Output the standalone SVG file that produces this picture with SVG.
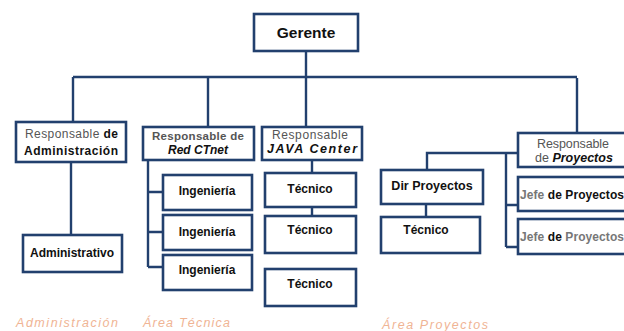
<svg xmlns="http://www.w3.org/2000/svg" width="624" height="331" viewBox="0 0 624 331">
<style>
.box{fill:#ffffff;stroke:#22406e;stroke-width:2.6}
.ln{fill:none;stroke:#22406e;stroke-width:2.4}
.t{font-family:"Liberation Sans",Arial,sans-serif;font-weight:bold;font-size:12px;fill:#111;text-anchor:middle}
.g{font-family:"Liberation Sans",Arial,sans-serif;font-size:12px;fill:#555}
.bi{font-weight:bold;font-style:italic;fill:#111}
.b{font-weight:bold;fill:#111}
.area{font-family:"Liberation Sans",Arial,sans-serif;font-style:italic;font-size:12.5px;fill:#f0b494}
</style>
<rect width="624" height="331" fill="#ffffff"/>
<g id="connectors">
<path class="ln" d="M306 52V78M73 77H577M73 77V122M208 77V127M306 78V127M577 78V133"/>
<path class="ln" d="M71 162V235"/>
<path class="ln" d="M148 160V267M148 192H163M148 232H163M148 267H163"/>
<path class="ln" d="M312 160V173M312 207V216"/>
<path class="ln" d="M518 153H427V170M506 153V247M506 205H518M506 247H518M426 204V217"/>
</g>
<g id="gerente"><rect class="box" x="254" y="14" width="104" height="37"/><text class="t" x="306" y="38" style="font-size:15.5px">Gerente</text></g>
<g id="resp-admin"><rect class="box" x="16" y="122" width="110" height="40"/><text class="g" x="25" y="138" textLength="93"><tspan>Responsable </tspan><tspan class="b">de</tspan></text><text class="t" x="24" y="155" textLength="94" style="text-anchor:start">Administración</text></g>
<g id="resp-red"><rect class="box" x="143" y="127" width="111" height="33"/><text class="g" x="198" y="140" style="text-anchor:middle;font-weight:bold;font-size:11.5px" textLength="92">Responsable de</text><text class="g bi" x="198" y="154" style="text-anchor:middle">Red CTnet</text></g>
<g id="resp-java"><rect class="box" x="262" y="127" width="100" height="33"/><text class="g" x="272" y="139" textLength="76">Responsable</text><text class="g bi" x="267" y="153" style="font-size:12.5px" textLength="90">JAVA Center</text></g>
<g id="resp-proy"><rect class="box" x="518" y="133" width="110" height="34"/><text class="g" x="537" y="148" style="font-size:12.5px" textLength="72">Responsable</text><text class="g" x="535" y="162" style="font-size:12.5px"><tspan>de </tspan><tspan class="bi">Proyectos</tspan></text></g>
<g id="administrativo"><rect class="box" x="23" y="235" width="99" height="37"/><text class="t" x="72" y="257">Administrativo</text></g>
<g id="ing1"><rect class="box" x="163" y="175" width="89" height="35"/><text class="t" x="207" y="195">Ingeniería</text></g>
<g id="ing2"><rect class="box" x="163" y="215" width="89" height="35"/><text class="t" x="207" y="236">Ingeniería</text></g>
<g id="ing3"><rect class="box" x="163" y="255" width="89" height="35"/><text class="t" x="207" y="274">Ingeniería</text></g>
<g id="tec1"><rect class="box" x="265" y="173" width="91" height="34"/><text class="t" x="310" y="193">Técnico</text></g>
<g id="tec2"><rect class="box" x="265" y="216" width="91" height="37"/><text class="t" x="310" y="234">Técnico</text></g>
<g id="tec3"><rect class="box" x="265" y="269" width="91" height="37"/><text class="t" x="310" y="288">Técnico</text></g>
<g id="dir-proy"><rect class="box" x="381" y="170" width="102" height="34"/><text class="t" x="432" y="190" style="font-size:12.5px">Dir Proyectos</text></g>
<g id="tec-proy"><rect class="box" x="381" y="217" width="99" height="36"/><text class="t" x="426" y="234">Técnico</text></g>
<g id="jefe1"><rect class="box" x="518" y="177" width="110" height="34"/><text class="t" x="520" y="199" style="text-anchor:start" textLength="104"><tspan style="fill:#777">Jefe</tspan> de Proyectos</text></g>
<g id="jefe2"><rect class="box" x="518" y="219" width="110" height="35"/><text class="t" x="520" y="241" style="text-anchor:start" textLength="104"><tspan style="fill:#777">Jefe</tspan> de <tspan style="fill:#777">Proyectos</tspan></text></g>
<g id="labels">
<text class="area" x="16" y="327" textLength="102">Administración</text>
<text class="area" x="143" y="327" textLength="87">Área Técnica</text>
<text class="area" x="382" y="329" textLength="106">Área Proyectos</text>
</g>
</svg>
